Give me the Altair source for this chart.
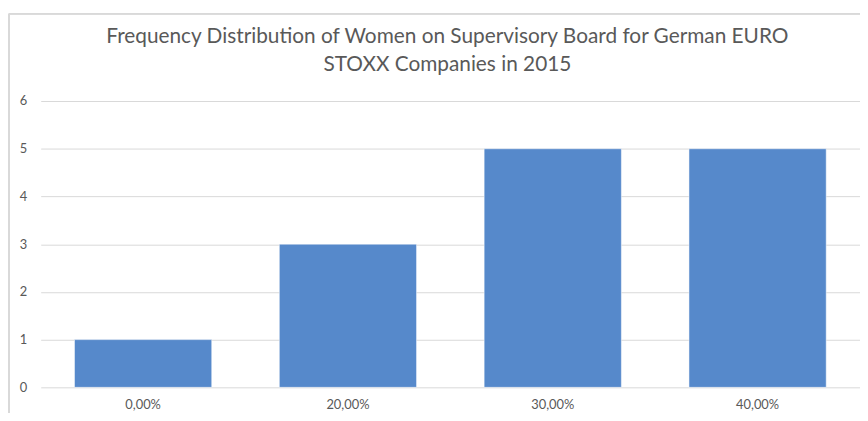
import altair as alt
import pandas as pd

categories = ["0,00%", "20,00%", "30,00%", "40,00%"]
counts = [1, 3, 5, 5]

df = pd.DataFrame({"share": categories, "count": counts})

FONT = "Lato"
GRAY = "#595959"

bars = alt.Chart(df).mark_bar(color="#5689CB", stroke="#FFFFFF", strokeWidth=0.5).encode(
    x=alt.X("share:N", sort=categories,
            scale=alt.Scale(paddingInner=0.33, paddingOuter=0.165),
            axis=alt.Axis(title=None, labelAngle=0, domain=False, ticks=False,
                          labelColor=GRAY, labelFontSize=13, labelFont=FONT, labelPadding=11)),
    y=alt.Y("count:Q", scale=alt.Scale(domain=[0, 6], nice=False),
            axis=alt.Axis(title=None, values=[0, 1, 2, 3, 4, 5, 6], domain=False, ticks=False,
                          labelColor=GRAY, labelFontSize=13, labelFont=FONT, labelPadding=14,
                          gridColor="#D9D9D9", gridWidth=1)),
)

frame_top = alt.Chart(df).mark_rule(color="#D9D9D9", strokeWidth=1.5).encode(
    x=alt.value(-32), x2=alt.value(900), y=alt.value(-88)
)
frame_left = alt.Chart(df).mark_rule(color="#D9D9D9", strokeWidth=1.5).encode(
    x=alt.value(-32), y=alt.value(-88), y2=alt.value(420)
)

chart = alt.layer(bars, frame_top, frame_left).properties(
    width=827,
    height=289,
    title=alt.Title(
        ["Frequency Distribution of Women on Supervisory Board for German EURO",
         "STOXX Companies in 2015"],
        font=FONT, fontSize=21, fontWeight="normal", color=GRAY,
        anchor="middle", frame="group", offset=-62, lineHeight=28, dx=-3,
    ),
    autosize=alt.AutoSizeParams(type="none"),
    padding={"left": 33, "top": 92, "right": 0, "bottom": 24},
).configure_view(stroke=None)

chart.save("out.html", embed_options={"renderer": "svg", "actions": False})
